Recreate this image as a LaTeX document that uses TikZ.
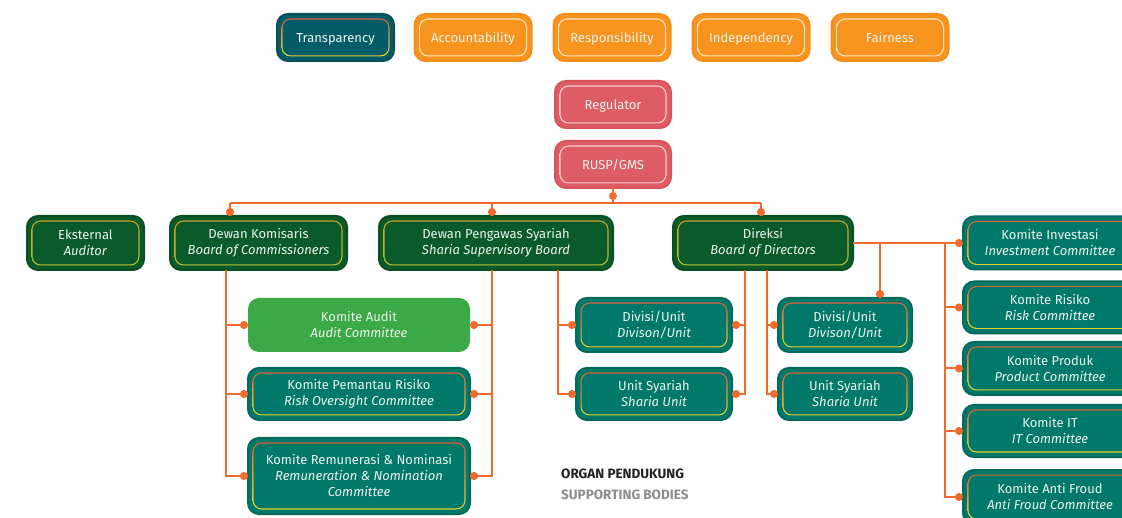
\documentclass[tikz,border=0pt]{standalone}
\usepackage{fontspec}
\setmainfont{Fira Sans}
\usetikzlibrary{arrows.meta}

% palette
\definecolor{c-line}{HTML}{F26B2D}
\definecolor{c-txt}{HTML}{EDF3EE}
\definecolor{c-tp}{HTML}{045C69}
\definecolor{c-tpo}{HTML}{0B4E59}
\definecolor{c-ringr}{HTML}{E0533A}
\definecolor{c-ringy}{HTML}{E8E22A}
\definecolor{c-or}{HTML}{F7941E}
\definecolor{c-oro}{HTML}{F58E1E}
\definecolor{c-orr}{HTML}{FDE3C2}
\definecolor{c-rd}{HTML}{DE5C64}
\definecolor{c-rdo}{HTML}{D9535C}
\definecolor{c-rdr}{HTML}{F6CED1}
\definecolor{c-dg}{HTML}{0B5B2A}
\definecolor{c-dgo}{HTML}{0A4E25}
\definecolor{c-dgr1}{HTML}{D29A2C}
\definecolor{c-dgr2}{HTML}{B6C32B}
\definecolor{c-tl}{HTML}{00786A}
\definecolor{c-tlo}{HTML}{006A5D}
\definecolor{c-au}{HTML}{3AA946}
\definecolor{c-dark}{HTML}{222222}
\definecolor{c-grey}{HTML}{8C8C8C}

\tikzset{
  wh/.style 2 args={minimum width=#1pt, minimum height=#2pt},
  label font/.style={font=\fontsize{13}{16}\selectfont, text=c-txt, align=center},
  oneline/.style={text height=9.3pt, text depth=0pt},
  % rounded box with an inset shaded ring: fill, outline, ring top, ring bottom
  panel/.style n args={4}{
    draw=#2, fill=#1, line width=2pt, rounded corners=11pt,
    inner sep=0pt, outer sep=0pt, label font,
    path picture={
      \shade[top color=#3, bottom color=#4, rounded corners=9pt]
        ([shift={(4.5pt,-4.5pt)}]path picture bounding box.north west) rectangle
        ([shift={(-4.5pt,4.5pt)}]path picture bounding box.south east);
      \fill[#1, rounded corners=8pt]
        ([shift={(5.7pt,-5.7pt)}]path picture bounding box.north west) rectangle
        ([shift={(-5.7pt,5.7pt)}]path picture bounding box.south east);
    }},
  valueteal/.style={panel={c-tp}{c-tpo}{c-ringr}{c-ringy}, oneline},
  valueorange/.style={panel={c-or}{c-oro}{c-orr}{c-orr}, oneline},
  organred/.style={panel={c-rd}{c-rdo}{c-rdr}{c-rdr}, oneline},
  organgreen/.style={panel={c-dg}{c-dgo}{c-dgr1}{c-dgr2}},
  committee/.style={panel={c-tl}{c-tlo}{c-ringr}{c-ringy}},
  auditbox/.style={fill=c-au, rounded corners=11pt, inner sep=0pt, outer sep=0pt, label font},
  legend/.style={anchor=west, inner sep=0pt, font=\fontsize{13.5}{16}\selectfont\bfseries},
  conn/.style={draw=c-line, line width=2pt},
  dotend/.style={-{Circle[length=8pt]}},
}

\begin{document}
\begin{tikzpicture}[x=1pt,y=-1pt]
\useasboundingbox (0,0) rectangle (1122,518);
\clip (0,0) rectangle (1122,518);

% values
\node[valueteal,   wh={117}{47}] (transp) at (335.5,37.5) {Transparency};
\node[valueorange, wh={117}{47}] (acc)    at (473,37.5)   {Accountability};
\node[valueorange, wh={117}{47}] (resp)   at (612,37.5)   {Responsibility};
\node[valueorange, wh={117}{47}] (indep)  at (751,37.5)   {Independency};
\node[valueorange, wh={117}{47}] (fair)   at (890,37.5)   {Fairness};

% shareholders
\node[organred, wh={116}{47}] (reg)  at (613,104.5) {Regulator};
\node[organred, wh={116}{47}] (rusp) at (613,164.5) {RUSP/GMS};

% main organs
\node[organgreen, wh={117}{54}] (ext)       at (85.5,243) {Eksternal\\\textit{Auditor}};
\node[organgreen, wh={177}{54}] (komisaris) at (258.5,243) {Dewan Komisaris\\\textit{Board of Commissioners}};
\node[organgreen, wh={234}{54}] (dps)       at (496,243) {Dewan Pengawas Syariah\\\textit{Sharia Supervisory Board}};
\node[organgreen, wh={180}{54}] (direksi)   at (763,243) {Direksi\\\textit{Board of Directors}};

% board committees
\node[auditbox,  wh={222}{54}] (audit)  at (359,325) {Komite Audit\\\textit{Audit Committee}};
\node[committee, wh={222}{52}] (riskov) at (359,394) {Komite Pemantau Risiko\\\textit{Risk Oversight Committee}};
\node[committee, wh={222}{76}] (remun)  at (359,476) {Komite Remunerasi \& Nominasi\\\textit{Remuneration \& Nomination}\\\textit{Committee}};

% units
\node[committee, wh={156}{54}] (divL) at (654,325) {Divisi/Unit\\\textit{Divison/Unit}};
\node[committee, wh={156}{52}] (usL)  at (654,394) {Unit Syariah\\\textit{Sharia Unit}};
\node[committee, wh={134}{54}] (divR) at (845,325) {Divisi/Unit\\\textit{Divison/Unit}};
\node[committee, wh={134}{52}] (usR)  at (845,394) {Unit Syariah\\\textit{Sharia Unit}};

% directors' committees
\node[committee, wh={174}{53}] (invest) at (1050,243)   {Komite Investasi\\\textit{Investment Committee}};
\node[committee, wh={174}{52}] (risk)   at (1050,307.5) {Komite Risiko\\\textit{Risk Committee}};
\node[committee, wh={174}{53}] (produk) at (1050,368.5) {Komite Produk\\\textit{Product Committee}};
\node[committee, wh={174}{52}] (it)     at (1050,431)   {Komite IT\\\textit{IT Committee}};
\node[committee, wh={174}{54}] (froud)  at (1050,497)   {Komite Anti Froud\\\textit{Anti Froud Committee}};

% legend
\node[legend, text=c-dark] (organ)   at (561,474) {ORGAN PENDUKUNG};
\node[legend, text=c-grey] (support) at (561,495) {SUPPORTING BODIES};

% column positions of the vertical runs
\coordinate (busL) at (230,203);
\coordinate (busM) at (492,203);
\coordinate (busR) at (761,203);
\coordinate (xl)  at (226,0);
\coordinate (xr)  at (492,0);
\coordinate (xm)  at (558,0);
\coordinate (xd1) at (745,0);
\coordinate (xd2) at (767,0);
\coordinate (xdr) at (880,0);
\coordinate (xc)  at (945,0);

% GMS to the organs
\draw[conn] (rusp.south) -- (rusp.south |- busL);
\fill[c-line] ([yshift=-8pt]rusp.south) circle (4);
\draw[conn] (busL) -- (busR);
\draw[conn,dotend] (busL) -- (busL |- komisaris.north);
\draw[conn,dotend] (busM) -- (busM |- dps.north);
\draw[conn,dotend] (busR) -- (busR |- direksi.north);

% board of commissioners committees
\draw[conn,dotend] (xl |- komisaris.south) |- (remun.west);
\draw[conn,dotend] (xl |- audit.west) -- (audit.west);
\draw[conn,dotend] (xl |- riskov.west) -- (riskov.west);
\draw[conn,dotend] (xr |- dps.south) |- (remun.east);
\draw[conn,dotend] (xr |- audit.east) -- (audit.east);
\draw[conn,dotend] (xr |- riskov.east) -- (riskov.east);

% units
\draw[conn,dotend] (xm |- dps.south) |- (usL.west);
\draw[conn,dotend] (xm |- divL.west) -- (divL.west);
\draw[conn,dotend] (xd1 |- direksi.south) |- (usL.east);
\draw[conn,dotend] (xd1 |- divL.east) -- (divL.east);
\draw[conn,dotend] (xd2 |- direksi.south) |- (usR.west);
\draw[conn,dotend] (xd2 |- divR.west) -- (divR.west);
\draw[conn,dotend] (xdr |- direksi.east) -- (xdr |- divR.north);

% directors' committees
\draw[conn,dotend] (direksi.east) -- (invest.west);
\draw[conn,dotend] (xc |- direksi.east) |- (froud.west);
\draw[conn,dotend] (xc |- risk.west) -- (risk.west);
\draw[conn,dotend] (xc |- produk.west) -- (produk.west);
\draw[conn,dotend] (xc |- it.west) -- (it.west);
\end{tikzpicture}
\end{document}
